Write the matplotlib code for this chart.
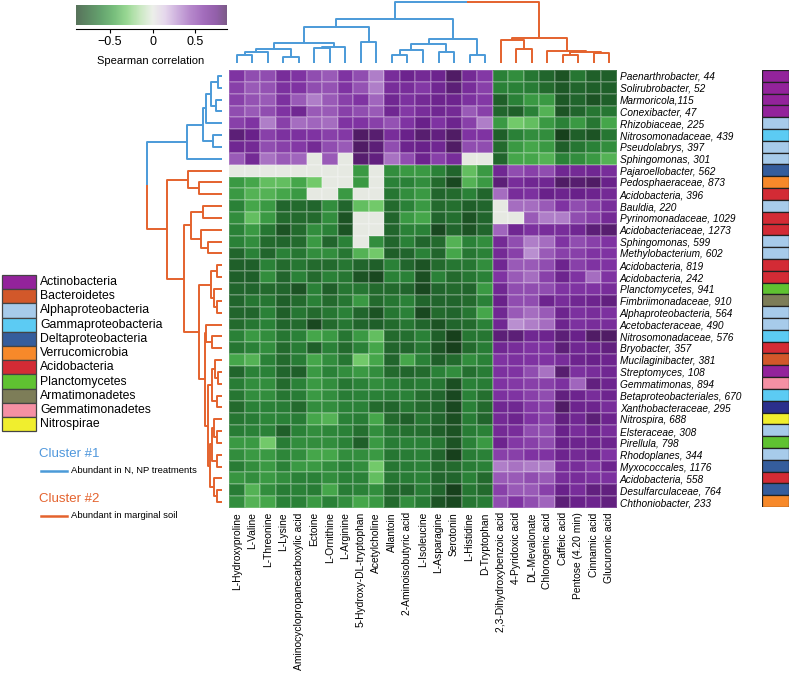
import numpy as np
import matplotlib
matplotlib.use('Agg')
import matplotlib.pyplot as plt
from matplotlib.colors import LinearSegmentedColormap
from matplotlib.patches import Rectangle

plt.rcParams['font.family'] = ['Liberation Sans', 'DejaVu Sans']

# ---- data ----
col_labels = ['L-Hydroxyproline', 'L-Valine', 'L-Threonine', 'L-Lysine',
              'Aminocyclopropanecarboxylic acid', 'Ectoine', 'L-Ornithine', 'L-Arginine',
              '5-Hydroxy-DL-tryptophan', 'Acetylcholine', 'Allantoin', '2-Aminoisobutyric acid',
              'L-Isoleucine', 'L-Asparagine', 'Serotonin', 'L-Histidine', 'D-Tryptophan',
              '2,3-Dihydroxybenzoic acid', '4-Pyridoxic acid', 'DL-Mevalonate',
              'Chlorogenic acid', 'Caffeic acid', 'Pentose (4.20 min)', 'Cinnamic acid',
              'Glucuronic acid']

row_labels = ['Paenarthrobacter, 44', 'Solirubrobacter, 52', 'Marmoricola,115',
              'Conexibacter, 47', 'Rhizobiaceae, 225', 'Nitrosomonadaceae, 439',
              'Pseudolabrys, 397', 'Sphingomonas, 301', 'Pajaroellobacter, 562',
              'Pedosphaeraceae, 873', 'Acidobacteria, 396', 'Bauldia, 220',
              'Pyrinomonadaceae, 1029', 'Acidobacteriaceae, 1273', 'Sphingomonas, 599',
              'Methylobacterium, 602', 'Acidobacteria, 819', 'Acidobacteria, 242',
              'Planctomycetes, 941', 'Fimbriimonadaceae, 910', 'Alphaproteobacteria, 564',
              'Acetobacteraceae, 490', 'Nitrosomonadaceae, 576', 'Bryobacter, 357',
              'Mucilaginibacter, 381', 'Streptomyces, 108', 'Gemmatimonas, 894',
              'Betaproteobacteriales, 670', 'Xanthobacteraceae, 295', 'Nitrospira, 688',
              'Elsteraceae, 308', 'Pirellula, 798', 'Rhodoplanes, 344', 'Myxococcales, 1176',
              'Acidobacteria, 558', 'Desulfarculaceae, 764', 'Chthoniobacter, 233']

# phylum of each row (Xanthobacteraceae shown in its own dark blue)
row_phylum = ['Actinobacteria'] * 4 + [
    'Alphaproteobacteria', 'Gammaproteobacteria', 'Alphaproteobacteria', 'Alphaproteobacteria',
    'Deltaproteobacteria', 'Verrucomicrobia', 'Acidobacteria', 'Alphaproteobacteria',
    'Acidobacteria', 'Acidobacteria', 'Alphaproteobacteria', 'Alphaproteobacteria',
    'Acidobacteria', 'Acidobacteria', 'Planctomycetes', 'Armatimonadetes',
    'Alphaproteobacteria', 'Alphaproteobacteria', 'Gammaproteobacteria', 'Acidobacteria',
    'Bacteroidetes', 'Actinobacteria', 'Gemmatimonadetes', 'Gammaproteobacteria',
    'Xanthobacteraceae', 'Nitrospirae', 'Alphaproteobacteria', 'Planctomycetes',
    'Alphaproteobacteria', 'Deltaproteobacteria', 'Acidobacteria', 'Deltaproteobacteria',
    'Verrucomicrobia']

legend_names = ['Actinobacteria', 'Bacteroidetes', 'Alphaproteobacteria',
                'Gammaproteobacteria', 'Deltaproteobacteria', 'Verrucomicrobia',
                'Acidobacteria', 'Planctomycetes', 'Armatimonadetes',
                'Gemmatimonadetes', 'Nitrospirae']
phylum_colors = {
    'Actinobacteria': '#93239b', 'Bacteroidetes': '#d2582a',
    'Alphaproteobacteria': '#a7cbea', 'Gammaproteobacteria': '#5ccbf3',
    'Deltaproteobacteria': '#355d9c', 'Verrucomicrobia': '#f7892a',
    'Acidobacteria': '#d32b35', 'Planctomycetes': '#5fc231',
    'Armatimonadetes': '#7d7d58', 'Gemmatimonadetes': '#f590a4',
    'Nitrospirae': '#f0ee2e', 'Xanthobacteraceae': '#2b2f8c',
}

# Spearman correlation (rows x columns, in displayed order)
corr = [
    [0.6, 0.5, 0.5, 0.65, 0.6, 0.5, 0.45, 0.6, 0.5, 0.35, 0.65, 0.72, 0.68, 0.72, 0.85, 0.68, 0.58, -0.6, -0.55, -0.65, -0.72, -0.8, -0.65, -0.75, -0.75],
    [0.55, 0.45, 0.48, 0.62, 0.6, 0.5, 0.48, 0.6, 0.48, 0.35, 0.65, 0.65, 0.58, 0.7, 0.8, 0.65, 0.55, -0.6, -0.6, -0.62, -0.7, -0.78, -0.72, -0.75, -0.75],
    [0.55, 0.48, 0.45, 0.62, 0.45, 0.35, 0.45, 0.55, 0.6, 0.42, 0.7, 0.62, 0.68, 0.72, 0.72, 0.62, 0.58, -0.75, -0.6, -0.5, -0.5, -0.78, -0.72, -0.8, -0.75],
    [0.5, 0.45, 0.5, 0.6, 0.7, 0.45, 0.45, 0.55, 0.5, 0.45, 0.7, 0.58, 0.65, 0.7, 0.68, 0.45, 0.55, -0.72, -0.75, -0.6, -0.4, -0.8, -0.72, -0.65, -0.65],
    [0.55, 0.6, 0.35, 0.55, 0.4, 0.42, 0.4, 0.6, 0.6, 0.55, 0.48, 0.6, 0.75, 0.6, 0.72, 0.55, 0.35, -0.5, -0.3, -0.35, -0.5, -0.6, -0.5, -0.65, -0.45],
    [0.8, 0.75, 0.55, 0.62, 0.62, 0.6, 0.55, 0.58, 0.85, 0.82, 0.65, 0.75, 0.82, 0.78, 0.85, 0.6, 0.6, -0.75, -0.6, -0.55, -0.55, -0.88, -0.75, -0.8, -0.65],
    [0.7, 0.68, 0.5, 0.55, 0.58, 0.68, 0.5, 0.45, 0.85, 0.8, 0.5, 0.72, 0.75, 0.7, 0.85, 0.5, 0.5, -0.7, -0.5, -0.45, -0.5, -0.75, -0.65, -0.6, -0.55],
    [0.45, 0.68, 0.38, 0.45, 0.42, 0, 0.45, 0, 0.82, 0.78, 0.38, 0.5, 0.72, 0.55, 0.65, 0, 0, -0.72, -0.45, -0.45, -0.4, -0.6, -0.55, -0.5, -0.4],
    [0, 0, 0, 0, 0, 0, 0, 0, -0.5, 0, -0.55, -0.5, -0.5, -0.6, -0.72, -0.35, -0.5, 0.7, 0.5, 0.55, 0.5, 0.7, 0.68, 0.7, 0.65],
    [-0.5, -0.45, -0.35, -0.35, -0.45, -0.3, 0, 0, -0.5, 0, -0.6, -0.6, -0.55, -0.7, -0.85, -0.4, -0.5, 0.8, 0.65, 0.7, 0.7, 0.85, 0.82, 0.85, 0.75],
    [-0.5, -0.4, -0.4, -0.45, -0.5, 0, 0, -0.5, 0, 0, -0.65, -0.55, -0.5, -0.72, -0.7, -0.6, -0.72, 0.4, 0.65, 0.62, 0.75, 0.72, 0.75, 0.72, 0.68],
    [-0.6, -0.45, -0.5, -0.72, -0.7, -0.72, -0.55, -0.72, -0.35, -0.3, -0.7, -0.6, -0.5, -0.7, -0.68, -0.75, -0.72, 0, 0.4, 0.4, 0.45, 0.6, 0.5, 0.55, 0.65],
    [-0.55, -0.35, -0.5, -0.7, -0.7, -0.7, -0.55, -0.8, 0, 0, -0.72, -0.5, -0.45, -0.72, -0.68, -0.8, -0.72, 0, 0, 0.45, 0.35, 0.35, 0.5, 0.55, 0.68],
    [-0.6, -0.5, -0.65, -0.8, -0.7, -0.55, -0.6, -0.8, 0, 0, -0.72, -0.6, -0.6, -0.85, -0.72, -0.8, -0.72, 0.42, 0.7, 0.62, 0.65, 0.65, 0.7, 0.8, 0.82],
    [-0.6, -0.55, -0.7, -0.72, -0.7, -0.5, -0.72, -0.6, 0, -0.55, -0.72, -0.6, -0.72, -0.7, -0.4, -0.6, -0.55, 0.68, 0.5, 0.35, 0.4, 0.6, 0.5, 0.55, 0.6],
    [-0.72, -0.6, -0.72, -0.6, -0.65, -0.55, -0.55, -0.65, -0.4, -0.3, -0.75, -0.72, -0.6, -0.72, -0.45, -0.65, -0.6, 0.68, 0.55, 0.3, 0.45, 0.55, 0.55, 0.6, 0.6],
    [-0.75, -0.75, -0.6, -0.7, -0.65, -0.7, -0.7, -0.65, -0.72, -0.75, -0.6, -0.72, -0.8, -0.7, -0.65, -0.65, -0.55, 0.7, 0.45, 0.45, 0.5, 0.72, 0.55, 0.6, 0.6],
    [-0.75, -0.75, -0.55, -0.72, -0.6, -0.7, -0.6, -0.65, -0.8, -0.85, -0.6, -0.6, -0.82, -0.6, -0.7, -0.65, -0.6, 0.6, 0.45, 0.4, 0.55, 0.72, 0.6, 0.4, 0.6],
    [-0.72, -0.72, -0.7, -0.72, -0.8, -0.6, -0.75, -0.65, -0.65, -0.7, -0.7, -0.72, -0.85, -0.72, -0.7, -0.72, -0.5, 0.7, 0.5, 0.5, 0.5, 0.6, 0.6, 0.6, 0.65],
    [-0.72, -0.65, -0.65, -0.75, -0.7, -0.6, -0.7, -0.65, -0.5, -0.7, -0.65, -0.6, -0.72, -0.72, -0.72, -0.7, -0.6, 0.75, 0.5, 0.5, 0.72, 0.65, 0.7, 0.72, 0.78],
    [-0.72, -0.72, -0.6, -0.75, -0.65, -0.7, -0.65, -0.6, -0.72, -0.8, -0.65, -0.6, -0.85, -0.7, -0.72, -0.65, -0.45, 0.7, 0.45, 0.4, 0.45, 0.72, 0.62, 0.65, 0.62],
    [-0.7, -0.65, -0.6, -0.72, -0.7, -0.85, -0.7, -0.65, -0.72, -0.75, -0.7, -0.65, -0.72, -0.8, -0.72, -0.7, -0.6, 0.7, 0.3, 0.35, 0.4, 0.72, 0.62, 0.65, 0.65],
    [-0.6, -0.5, -0.55, -0.65, -0.6, -0.45, -0.5, -0.65, -0.5, -0.35, -0.7, -0.68, -0.6, -0.75, -0.88, -0.65, -0.65, 0.8, 0.8, 0.7, 0.72, 0.8, 0.75, 0.85, 0.85],
    [-0.65, -0.6, -0.55, -0.7, -0.62, -0.75, -0.6, -0.7, -0.6, -0.45, -0.72, -0.72, -0.65, -0.8, -0.88, -0.7, -0.62, 0.7, 0.65, 0.6, 0.6, 0.8, 0.7, 0.72, 0.78],
    [-0.45, -0.4, -0.6, -0.7, -0.62, -0.45, -0.55, -0.65, -0.3, -0.45, -0.72, -0.45, -0.6, -0.75, -0.7, -0.55, -0.6, 0.6, 0.62, 0.6, 0.6, 0.65, 0.72, 0.75, 0.72],
    [-0.72, -0.6, -0.6, -0.72, -0.75, -0.5, -0.6, -0.55, -0.5, -0.55, -0.7, -0.72, -0.7, -0.6, -0.55, -0.68, -0.62, 0.62, 0.6, 0.5, 0.38, 0.82, 0.62, 0.65, 0.7],
    [-0.62, -0.55, -0.55, -0.7, -0.6, -0.5, -0.55, -0.65, -0.6, -0.55, -0.6, -0.65, -0.62, -0.65, -0.82, -0.6, -0.62, 0.6, 0.58, 0.55, 0.55, 0.62, 0.42, 0.78, 0.72],
    [-0.65, -0.55, -0.55, -0.65, -0.62, -0.5, -0.55, -0.62, -0.6, -0.6, -0.62, -0.6, -0.68, -0.72, -0.85, -0.6, -0.68, 0.62, 0.6, 0.55, 0.5, 0.78, 0.72, 0.65, 0.72],
    [-0.7, -0.6, -0.6, -0.62, -0.7, -0.55, -0.55, -0.6, -0.6, -0.7, -0.72, -0.65, -0.7, -0.72, -0.85, -0.6, -0.7, 0.7, 0.7, 0.58, 0.55, 0.85, 0.72, 0.72, 0.65],
    [-0.65, -0.62, -0.58, -0.6, -0.62, -0.45, -0.4, -0.6, -0.62, -0.45, -0.7, -0.75, -0.65, -0.72, -0.82, -0.62, -0.72, 0.68, 0.72, 0.6, 0.55, 0.78, 0.7, 0.8, 0.72],
    [-0.62, -0.6, -0.6, -0.75, -0.6, -0.55, -0.58, -0.6, -0.68, -0.55, -0.65, -0.68, -0.68, -0.75, -0.8, -0.62, -0.6, 0.68, 0.65, 0.5, 0.5, 0.75, 0.65, 0.72, 0.65],
    [-0.5, -0.5, -0.3, -0.62, -0.55, -0.55, -0.55, -0.6, -0.75, -0.5, -0.62, -0.6, -0.6, -0.65, -0.8, -0.6, -0.5, 0.72, 0.58, 0.55, 0.5, 0.75, 0.72, 0.72, 0.72],
    [-0.55, -0.5, -0.5, -0.58, -0.55, -0.45, -0.45, -0.55, -0.55, -0.5, -0.65, -0.62, -0.6, -0.72, -0.88, -0.62, -0.6, 0.55, 0.55, 0.6, 0.6, 0.72, 0.68, 0.72, 0.6],
    [-0.62, -0.55, -0.5, -0.6, -0.5, -0.5, -0.55, -0.6, -0.55, -0.3, -0.65, -0.62, -0.6, -0.7, -0.7, -0.62, -0.6, 0.35, 0.38, 0.35, 0.35, 0.65, 0.65, 0.58, 0.72],
    [-0.52, -0.55, -0.5, -0.55, -0.6, -0.6, -0.55, -0.6, -0.6, -0.35, -0.65, -0.62, -0.6, -0.72, -0.72, -0.6, -0.7, 0.45, 0.45, 0.5, 0.45, 0.65, 0.65, 0.62, 0.62],
    [-0.62, -0.4, -0.55, -0.62, -0.6, -0.62, -0.45, -0.62, -0.6, -0.55, -0.7, -0.72, -0.62, -0.72, -0.88, -0.65, -0.7, 0.55, 0.45, 0.45, 0.55, 0.75, 0.65, 0.78, 0.78],
    [-0.55, -0.4, -0.45, -0.6, -0.6, -0.5, -0.6, -0.55, -0.45, -0.5, -0.7, -0.55, -0.62, -0.8, -0.85, -0.65, -0.62, 0.5, 0.6, 0.5, 0.42, 0.8, 0.75, 0.72, 0.78],
]

# dendrogram merges: (child a, child b, height); ids >= n refer to earlier merges
col_merges = [
    (0, 1, 8), (25, 2, 11.3), (3, 4, 5.7), (26, 27, 13.7), (5, 6, 14.7),
    (29, 7, 16.3), (28, 30, 19.7), (8, 9, 21.3), (31, 32, 35.7), (10, 11, 8),
    (34, 12, 13), (13, 14, 11.3), (35, 36, 18.7), (15, 16, 8), (37, 38, 23.7),
    (33, 39, 43.7), (18, 19, 13.7), (17, 41, 23), (21, 22, 8), (23, 24, 10.3),
    (43, 44, 11.3), (20, 45, 12.3), (42, 46, 25.3), (40, 47, 61.3),
]
row_merges = [
    (0, 1, 3.7), (2, 3, 6), (37, 38, 11), (39, 4, 16), (5, 6, 8.7),
    (40, 41, 19.3), (42, 7, 35.3), (9, 10, 22.7), (8, 44, 33.7), (11, 12, 19.3),
    (14, 15, 14.3), (13, 47, 21), (46, 48, 31), (16, 17, 5.3), (19, 20, 5.3),
    (18, 51, 8), (50, 52, 11), (22, 23, 10), (21, 54, 16), (25, 26, 4),
    (24, 56, 7), (27, 28, 5), (57, 58, 10), (30, 31, 5), (29, 60, 8),
    (32, 33, 5), (61, 62, 10), (35, 36, 5), (34, 64, 8), (63, 65, 12),
    (59, 66, 14), (55, 67, 17), (53, 68, 23), (49, 69, 37.7), (45, 70, 55.3),
    (43, 71, 75.3),
]
col_cluster1 = set(range(17))   # blue columns
row_cluster1 = set(range(8))    # blue rows

BLUE = '#4b9ad8'
ORANGE = '#e4622d'

W, H = 792, 676
fig = plt.figure(figsize=(W / 100, H / 100), dpi=100)


def px_axes(x0, y0, x1, y1):
    a = fig.add_axes([x0 / W, 1 - y1 / H, (x1 - x0) / W, (y1 - y0) / H])
    a.patch.set_alpha(0)
    return a


def draw_dendro(ax, merges, n, cluster1, orient):
    pos = {i: i + 0.5 for i in range(n)}
    hgt = {i: 0.0 for i in range(n)}
    leaves = {i: {i} for i in range(n)}

    def line(p, h, c):
        if orient == 'top':
            ax.plot(p, h, color=c, lw=1.4, solid_capstyle='butt', clip_on=False)
        else:
            ax.plot(h, p, color=c, lw=1.4, solid_capstyle='butt', clip_on=False)

    for k, (a, b, h) in enumerate(merges):
        node = n + k
        leaves[node] = leaves[a] | leaves[b]
        pa, pb = pos[a], pos[b]
        if leaves[node] <= cluster1:
            line([pa, pa, pb, pb], [hgt[a], h, h, hgt[b]], BLUE)
        elif not (leaves[node] & cluster1):
            line([pa, pa, pb, pb], [hgt[a], h, h, hgt[b]], ORANGE)
        else:
            mid = (pa + pb) / 2
            line([pa, pa, mid], [hgt[a], h, h], BLUE)
            line([mid, pb, pb], [h, h, hgt[b]], ORANGE)
        pos[node] = (pa + pb) / 2
        hgt[node] = h
    for s in ax.spines.values():
        s.set_visible(False)
    ax.set_xticks([])
    ax.set_yticks([])


nrow, ncol = len(row_labels), len(col_labels)
data = np.array(corr)

cmap = LinearSegmentedColormap.from_list('corr', [
    (0.0, '#163d1b'), (0.083, '#1f5f29'), (0.167, '#2a8237'), (0.25, '#44a64a'),
    (0.333, '#72c96a'), (0.417, '#b5e0aa'), (0.5, '#e6eae2'), (0.583, '#dcc8e6'),
    (0.667, '#b98fd0'), (0.75, '#9a5bb8'), (0.833, '#8034a3'), (0.917, '#69218a'),
    (1.0, '#431a52')])

# heatmap
ax = px_axes(229, 70, 617, 508)
ax.pcolormesh(data, cmap=cmap, vmin=-0.9, vmax=0.9,
              edgecolors=(1, 1, 1, 0.18), linewidth=0.3)
ax.set_xlim(0, ncol)
ax.set_ylim(nrow, 0)
for s in ax.spines.values():
    s.set_visible(False)
ax.yaxis.tick_right()
ax.set_yticks(np.arange(nrow) + 0.5)
ax.set_yticklabels(row_labels, fontsize=7.3, fontstyle='italic')
ax.set_xticks(np.arange(ncol) + 0.5)
ax.set_xticklabels(col_labels, fontsize=7.4, rotation=90)
ax.tick_params(axis='y', length=0, pad=2)
ax.tick_params(axis='x', length=0, pad=3)

# dendrograms
axt = px_axes(229, 1.7, 617, 63)
draw_dendro(axt, col_merges, ncol, col_cluster1, 'top')
axt.set_xlim(0, ncol)
axt.set_ylim(0, 61.3)

axl = px_axes(146, 70, 222, 508)
draw_dendro(axl, row_merges, nrow, row_cluster1, 'left')
axl.set_ylim(nrow, 0)
axl.set_xlim(76, 0)

# row colour strip
axs = px_axes(762, 70, 789, 507)
for i, ph in enumerate(row_phylum):
    axs.add_patch(Rectangle((0, i), 1, 1, facecolor=phylum_colors[ph],
                            edgecolor='#222222', linewidth=0.9))
axs.set_xlim(0, 1)
axs.set_ylim(nrow, 0)
axs.axis('off')

# colour bar
axc = px_axes(76, 5, 227, 25)
grad = np.linspace(-0.9, 0.875, 256)[None, :]
axc.imshow(grad, cmap=cmap, vmin=-0.9, vmax=0.9, aspect='auto', alpha=0.72,
           extent=[-0.9, 0.875, 0, 1])
axc.set_xlim(-0.9, 0.875)
for k in ['top', 'left', 'right']:
    axc.spines[k].set_visible(False)
axc.spines['bottom'].set_position(('outward', 3))
axc.set_yticks([])
axc.set_xticks([-0.5, 0, 0.5])
axc.set_xticklabels(['\u22120.5', '0', '0.5'])
axc.tick_params(axis='x', length=3, width=0.8, labelsize=9, pad=2)

# overlay for free text and legend
ov = fig.add_axes([0, 0, 1, 1], zorder=10)
ov.patch.set_alpha(0)
ov.set_xlim(0, W)
ov.set_ylim(H, 0)
ov.axis('off')
ov.text(151, 61, 'Spearman correlation', fontsize=8, ha='center', va='center')

box_h = 14.2
for i, name in enumerate(legend_names):
    y0 = 275 + i * box_h
    ov.add_patch(Rectangle((2, y0), 33.5, box_h, facecolor=phylum_colors[name],
                           edgecolor='#444444', linewidth=0.9))
    ov.text(40, y0 + box_h / 2, name, fontsize=8.8, va='center', ha='left')

ov.text(39, 454, 'Cluster #1', fontsize=9.5, color='#4f97dc', va='center')
ov.plot([41, 67], [470.7, 470.7], color=BLUE, lw=1.8)
ov.text(71, 470.7, 'Abundant in N, NP treatments', fontsize=6.8, va='center')
ov.text(39, 499.3, 'Cluster #2', fontsize=9.5, color=ORANGE, va='center')
ov.plot([41, 67], [515.7, 515.7], color=ORANGE, lw=1.8)
ov.text(71, 515.7, 'Abundant in marginal soil', fontsize=6.8, va='center')

fig.savefig('out.png', dpi=100)
